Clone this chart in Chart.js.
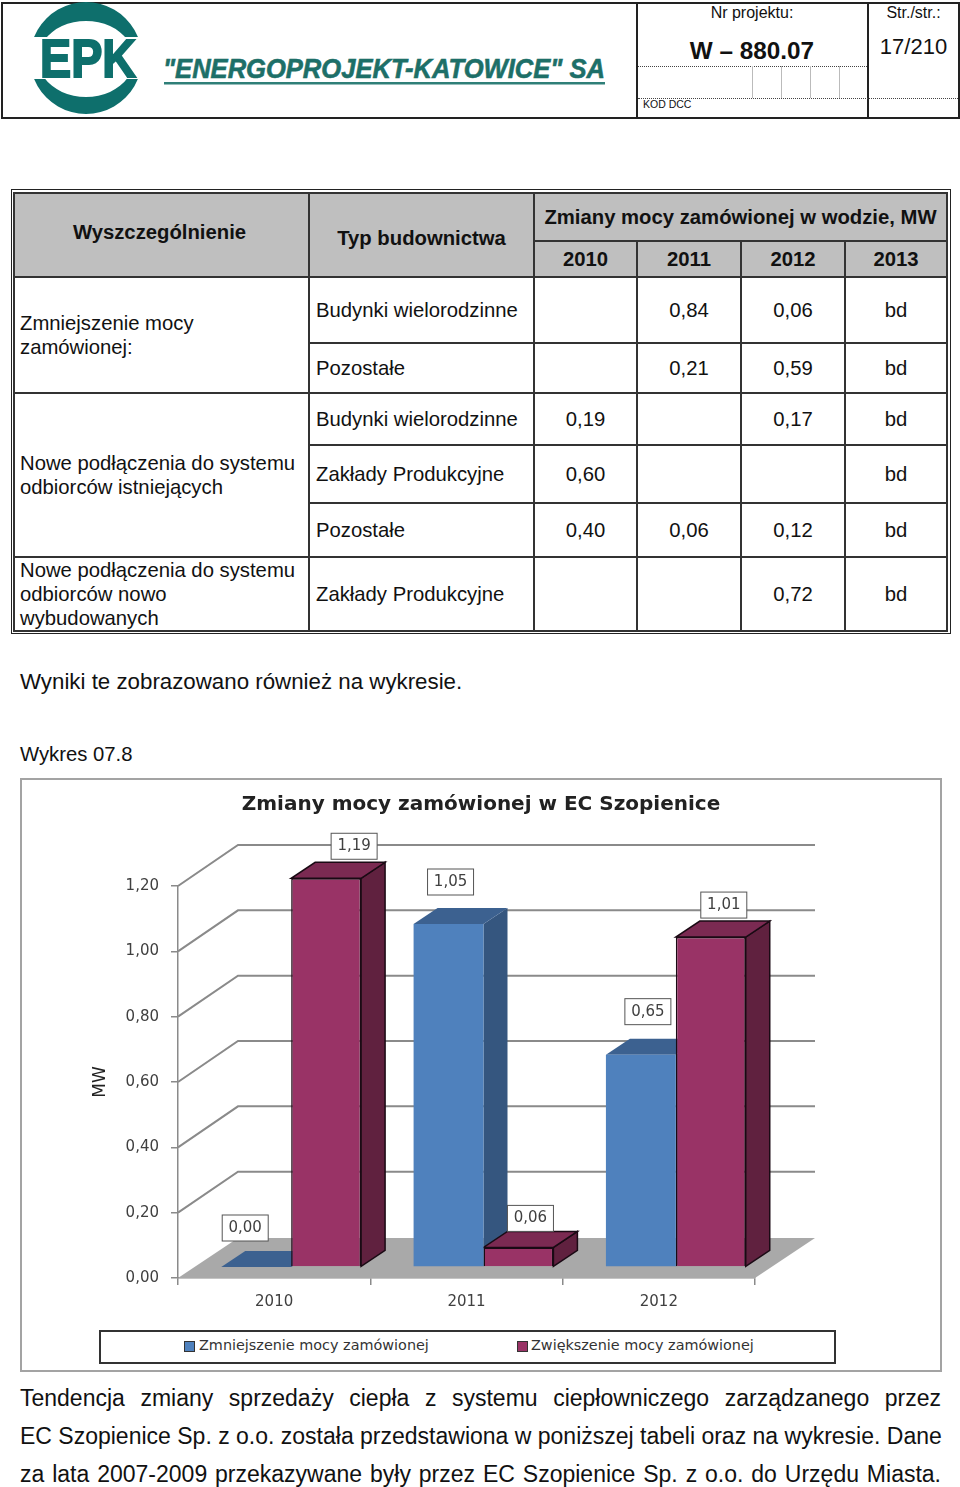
<!DOCTYPE html>
<html lang="pl">
<head>
<meta charset="utf-8">
<title>Zmiany mocy zamówionej w EC Szopienice</title>
<script src="https://cdn.jsdelivr.net/npm/chart.js@4/dist/chart.umd.min.js"></script>
<style>
  html, body { margin: 0; padding: 0; background: #fff; }
  body { width: 960px; height: 1487px; position: relative; overflow: hidden; font-family: "Liberation Sans", Arial, sans-serif; color: #111; }
  .abs { position: absolute; white-space: nowrap; }
  .line { position: absolute; background: #222; }
  .dots { position: absolute; border-top: 1px dotted #444; height: 0; }
  .thin { position: absolute; width: 1px; background: #bbb; }
  #tableBox { position: absolute; left: 11px; top: 189px; width: 935px; height: 438px; border: 1px solid #222; padding: 2px 2px 3px 1px; }
  #tableBox table { border-collapse: collapse; table-layout: fixed; width: 933px; height: 437px; font-size: 20.3px; }
  #tableBox td { border: 2px solid #333; padding: 0; text-align: center; line-height: 24px; }
  #tableBox td.head { background: #bfbfbf; font-weight: bold; }
  #tableBox td.name { text-align: left; padding-left: 5px; }
  #tableBox td.type { text-align: left; padding-left: 6px; }
  #chartFrame { position: absolute; left: 20px; top: 778px; width: 918px; height: 590px; border: 2px solid #a3a3a3; }
  #chartFrame canvas { position: absolute; left: 0; top: 0; }
  #legendBox { position: absolute; left: 77px; top: 550px; width: 733px; height: 30px; border: 2px solid #333; background: #fff; font: 14.4px "DejaVu Sans", sans-serif; color: #333; }
  #legendBox span.item { position: absolute; top: 5px; white-space: nowrap; }
  #legendBox i { position: absolute; top: 9px; width: 9px; height: 9px; border: 1px solid #333; }
  .para { position: absolute; left: 20px; width: 921px; font-size: 23px; text-align: justify; text-align-last: justify; white-space: nowrap; }
</style>
</head>
<body>

<!-- naglowek strony -->
<div class="line" style="left:1px;top:2px;width:958px;height:2px"></div>
<div class="line" style="left:1px;top:117px;width:958px;height:2px"></div>
<div class="line" style="left:1px;top:2px;width:2px;height:117px"></div>
<div class="line" style="left:958px;top:2px;width:2px;height:117px"></div>
<div class="line" style="left:636px;top:2px;width:2px;height:117px"></div>
<div class="line" style="left:867px;top:2px;width:2px;height:117px"></div>
<div class="dots" style="left:638px;top:66px;width:229px"></div>
<div class="dots" style="left:638px;top:98px;width:320px"></div>
<div class="thin" style="left:752px;top:66px;height:32px"></div>
<div class="thin" style="left:781px;top:66px;height:32px"></div>
<div class="thin" style="left:810px;top:66px;height:32px"></div>
<div class="thin" style="left:839px;top:66px;height:32px"></div>

<svg class="abs" style="left:20px;top:0" width="600" height="118" viewBox="20 0 600 118">
  <path fill="#0e6f6c" fill-rule="evenodd" d="M86 2a56 56 0 1 0 0.01 0ZM86 21a48 38 0 1 1 -0.01 0Z"/>
  <rect x="30" y="37" width="112" height="42" fill="#fff"/>
  <text x="88" y="77" text-anchor="middle" font-family="Liberation Sans" font-weight="bold" font-size="53" fill="#0e6f6c" stroke="#0e6f6c" stroke-width="2" textLength="96" lengthAdjust="spacingAndGlyphs">EPK</text>
  <text x="163" y="78" font-family="Liberation Sans" font-weight="bold" font-style="italic" font-size="27" fill="#1d6f68" stroke="#1d6f68" stroke-width="0.6" textLength="442" lengthAdjust="spacingAndGlyphs">"ENERGOPROJEKT-KATOWICE" SA</text>
  <rect x="164" y="82" width="441" height="2.5" fill="#2f7f78"/>
</svg>

<div class="abs" style="left:637px;width:230px;top:4px;text-align:center;font-size:16px">Nr projektu:</div>
<div class="abs" style="left:637px;width:230px;top:37px;text-align:center;font-size:24.3px;font-weight:bold">W – 880.07</div>
<div class="abs" style="left:869px;width:89px;top:4px;text-align:center;font-size:16px">Str./str.:</div>
<div class="abs" style="left:869px;width:89px;top:34px;text-align:center;font-size:22px">17/210</div>
<div class="abs" style="left:643px;top:98px;font-size:10.5px">KOD DCC</div>

<!-- tabela -->
<div id="tableBox">
<table>
  <colgroup><col style="width:295px"><col style="width:225px"><col style="width:103px"><col style="width:104px"><col style="width:104px"><col style="width:102px"></colgroup>
  <tr style="height:48px"><td class="head" rowspan="2" style="padding-bottom:6px;padding-right:4px">Wyszczególnienie</td><td class="head" rowspan="2" style="padding-top:6px">Typ budownictwa</td><td class="head" colspan="4">Zmiany mocy zamówionej w wodzie, MW</td></tr>
  <tr style="height:36px"><td class="head">2010</td><td class="head">2011</td><td class="head">2012</td><td class="head">2013</td></tr>
  <tr style="height:66px"><td class="name" rowspan="2">Zmniejszenie mocy<br>zamówionej:</td><td class="type">Budynki wielorodzinne</td><td></td><td>0,84</td><td>0,06</td><td>bd</td></tr>
  <tr style="height:50px"><td class="type">Pozostałe</td><td></td><td>0,21</td><td>0,59</td><td>bd</td></tr>
  <tr style="height:52px"><td class="name" rowspan="3">Nowe podłączenia do systemu<br>odbiorców istniejących</td><td class="type">Budynki wielorodzinne</td><td>0,19</td><td></td><td>0,17</td><td>bd</td></tr>
  <tr style="height:58px"><td class="type">Zakłady Produkcyjne</td><td>0,60</td><td></td><td></td><td>bd</td></tr>
  <tr style="height:54px"><td class="type">Pozostałe</td><td>0,40</td><td>0,06</td><td>0,12</td><td>bd</td></tr>
  <tr style="height:72px"><td class="name">Nowe podłączenia do systemu<br>odbiorców nowo<br>wybudowanych</td><td class="type">Zakłady Produkcyjne</td><td></td><td></td><td>0,72</td><td>bd</td></tr>
</table>
</div>

<div class="abs" style="left:20px;top:669px;font-size:22.3px">Wyniki te zobrazowano również na wykresie.</div>
<div class="abs" style="left:20px;top:743px;font-size:20.3px">Wykres 07.8</div>

<!-- wykres -->
<div id="chartFrame">
  <canvas id="mocChart" width="918" height="590"></canvas>
  <div id="legendBox"></div>
</div>

<div class="para" style="top:1385px">Tendencja zmiany sprzedaży ciepła z systemu ciepłowniczego zarządzanego przez</div>
<div class="para" style="top:1423px">EC Szopienice Sp. z o.o. została przedstawiona w poniższej tabeli oraz na wykresie. Dane</div>
<div class="para" style="top:1461px">za lata 2007-2009 przekazywane były przez EC Szopienice Sp. z o.o. do Urzędu Miasta.</div>

<script>
// Dane wykresu
const years = ['2010', '2011', '2012'];
const decreaseValues = [0.00, 1.05, 0.65];
const increaseValues = [1.19, 0.06, 1.01];
const seriesNames = ['Zmniejszenie mocy zamówionej', 'Zwiększenie mocy zamówionej'];
const chartTitle = 'Zmiany mocy zamówionej w EC Szopienice';
const axisTitle = 'MW';

// Kolory
const blue = { front: '#4f81bd', side: '#35567f', top: '#3c6190' };
const wine = { front: '#993366', side: '#60213f', top: '#7b2a52' };
const gridColor = '#8a8a8a';
const floorColor = '#a9a9a9';

// Przesuniecia efektu 3D (px)
const wall = { dx: 60, dy: -41 };   // tylna sciana wzgledem osi
const barShift = { dx: 17, dy: -11 }; // slupki stoja w glebi podlogi
const depth = { dx: 24, dy: -16 };  // glebokosc slupka

// Polozenie ramek z etykietami wzgledem srodka gornej krawedzi slupka: [seria][rok]
const labelShift = [
    [[-11, -39], [2, -42], [7, -43]],
    [[28, -32], [12, -29], [13, -32]]
];

function fmt(v) {
    return v.toFixed(2).replace('.', ',');
}

function polygon(ctx, pts, fill, stroke) {
    ctx.beginPath();
    pts.forEach((p, i) => i ? ctx.lineTo(p[0], p[1]) : ctx.moveTo(p[0], p[1]));
    ctx.closePath();
    ctx.fillStyle = fill;
    ctx.fill();
    if (stroke) {
        ctx.lineWidth = 1.5;
        ctx.strokeStyle = stroke;
        ctx.stroke();
    }
}

function drawBarFaces(ctx, meta, colors, edge) {
    meta.data.forEach(bar => {
        const { x, y, base, width } = bar.getProps(['x', 'y', 'base', 'width'], true);
        const x0 = x - width / 2, x1 = x + width / 2;
        polygon(ctx, [[x1, y], [x1 + depth.dx, y + depth.dy], [x1 + depth.dx, base + depth.dy], [x1, base]], colors.side, edge);
        polygon(ctx, [[x0, y], [x1, y], [x1 + depth.dx, y + depth.dy], [x0 + depth.dx, y + depth.dy]], colors.top, edge);
    });
}

const scene3d = {
    id: 'scene3d',
    afterLayout(chart) {
        // tytul wysrodkowany na calej ramce, nie nad obszarem wykresu
        chart.titleBlock.left = 0;
        chart.titleBlock.right = chart.width;
    },
    beforeDatasetsDraw(chart) {
        const ctx = chart.ctx;
        const { left, right } = chart.chartArea;
        const yScale = chart.scales.y;
        const y0 = yScale.getPixelForValue(0);
        ctx.save();
        // podloga
        polygon(ctx, [[left, y0], [right, y0], [right + wall.dx, y0 + wall.dy + 1], [left + wall.dx, y0 + wall.dy + 1]], floorColor);
        // siatka: skos od osi i linia na tylnej scianie
        ctx.strokeStyle = gridColor;
        ctx.lineWidth = 2;
        yScale.ticks.forEach(t => {
            if (t.value === 0) return;
            const y = yScale.getPixelForValue(t.value);
            ctx.beginPath();
            ctx.moveTo(left, y);
            ctx.lineTo(left + wall.dx, y + wall.dy);
            ctx.lineTo(right + wall.dx, y + wall.dy);
            ctx.stroke();
        });
        ctx.restore();
    },
    beforeDatasetDraw(chart, args) {
        const ctx = chart.ctx;
        ctx.save();
        ctx.translate(barShift.dx, barShift.dy);
        // Chart.js rysuje serie od konca, wiec boki niebieskich musza powstac przed frontami bordowych
        if (args.index === 1) {
            drawBarFaces(ctx, chart.getDatasetMeta(0), blue, null);
            drawBarFaces(ctx, args.meta, wine, '#1a0a14');
        }
    },
    afterDatasetDraw(chart) {
        chart.ctx.restore();
    },
    afterDatasetsDraw(chart) {
        const ctx = chart.ctx;
        ctx.save();
        ctx.font = '15px "DejaVu Sans"';
        ctx.textAlign = 'center';
        ctx.textBaseline = 'middle';
        chart.data.datasets.forEach((ds, i) => {
            chart.getDatasetMeta(i).data.forEach((bar, j) => {
                const cx = bar.x + barShift.dx + labelShift[i][j][0];
                const cy = bar.y + barShift.dy + labelShift[i][j][1];
                ctx.fillStyle = '#fff';
                ctx.fillRect(cx - 23, cy - 13, 46, 26);
                ctx.strokeStyle = '#555';
                ctx.lineWidth = 1;
                ctx.strokeRect(cx - 23, cy - 13, 46, 26);
                ctx.fillStyle = '#404040';
                ctx.fillText(fmt(ds.data[j]), cx, cy);
            });
        });
        ctx.restore();
    }
};

const mocChart = new Chart(document.getElementById('mocChart'), {
    type: 'bar',
    data: {
        labels: years,
        datasets: [
            { label: seriesNames[0], data: decreaseValues, backgroundColor: blue.front, clip: false },
            { label: seriesNames[1], data: increaseValues, backgroundColor: wine.front, borderColor: '#1a0a14', borderWidth: 1.5, clip: false }
        ]
    },
    options: {
        responsive: false,
        animation: false,
        layout: { padding: { left: 68, right: 185, top: 0, bottom: 52 } },
        datasets: { bar: { categoryPercentage: 0.727, barPercentage: 1 } },
        plugins: {
            legend: { display: false },
            tooltip: { enabled: false },
            title: {
                display: true,
                text: chartTitle,
                color: '#222',
                font: { family: 'DejaVu Sans', size: 20, weight: 'bold' },
                padding: { top: 13, bottom: 69 }
            }
        },
        scales: {
            x: {
                grid: { drawOnChartArea: false, color: gridColor, tickLength: 7, lineWidth: 1.5 },
                border: { color: gridColor, width: 1.5 },
                ticks: { color: '#404040', font: { family: 'DejaVu Sans', size: 15 }, padding: 8 },
                afterFit(scale) { scale.height = 40; }
            },
            y: {
                min: 0,
                max: 1.2,
                grid: { drawOnChartArea: false, color: gridColor, tickLength: 7, lineWidth: 1.5 },
                border: { color: gridColor, width: 1.5 },
                title: { display: true, text: axisTitle, color: '#222', font: { family: 'DejaVu Sans', size: 17 }, padding: 0 },
                ticks: {
                    stepSize: 0.2,
                    color: '#404040',
                    font: { family: 'DejaVu Sans', size: 15 },
                    padding: 12,
                    callback: value => fmt(value)
                },
                afterFit(scale) { scale.width = 88; }
            }
        }
    },
    plugins: [scene3d]
});

// Legenda w ramce pod wykresem
const legendBox = document.getElementById('legendBox');
const legendPlaces = [[83, 98], [416, 430]];
mocChart.data.datasets.forEach((ds, i) => {
    const mark = document.createElement('i');
    mark.style.left = legendPlaces[i][0] + 'px';
    mark.style.background = ds.backgroundColor;
    const name = document.createElement('span');
    name.className = 'item';
    name.style.left = legendPlaces[i][1] + 'px';
    name.textContent = ds.label;
    legendBox.appendChild(mark);
    legendBox.appendChild(name);
});
</script>
</body>
</html>
